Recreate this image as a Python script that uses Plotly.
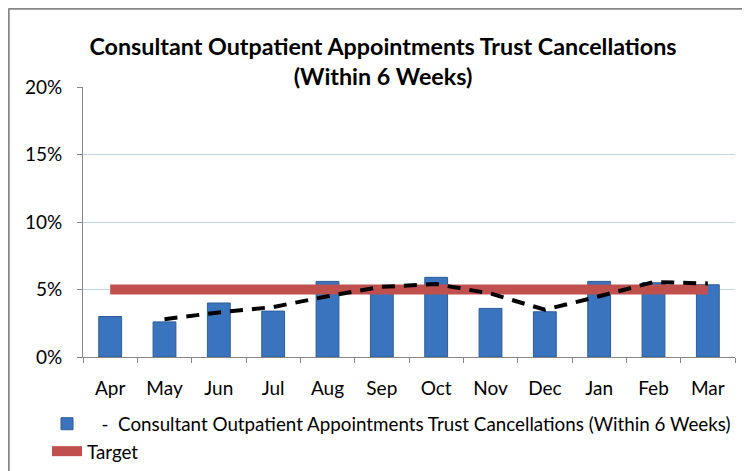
import plotly.graph_objects as go

months = ["Apr", "May", "Jun", "Jul", "Aug", "Sep", "Oct", "Nov", "Dec", "Jan", "Feb", "Mar"]
cancellations = [3.0, 2.6, 4.0, 3.4, 5.6, 4.9, 5.9, 3.6, 3.35, 5.6, 5.5, 5.35]
trend = [None, 2.8, 3.3, 3.7, 4.5, 5.2, 5.4, 4.7, 3.5, 4.5, 5.55, 5.45]
target = [5, 5, 5, 5, 5, 5, 5, 5, 5, 5, 5, 5]
y_ticks = [0, 5, 10, 15, 20]
y_tick_labels = ["0%", "5%", "10%", "15%", "20%"]

FONT = "Lato"
OFF = 8  # page body margin
W, H = 750 - OFF, 471 - OFF
# plot area in reference (screen) pixels
L, R, T, B = 83, 735, 87, 357

def px_x(p):
    return (p - L) / (R - L)

def px_y(p):
    return (B - p) / (B - T)

fig = go.Figure()
fig.add_trace(go.Bar(
    x=months, y=cancellations, width=0.42,
    marker=dict(color="#3A74BE", line=dict(color="#2C5C98", width=1)),
    name="\u00a0\u00a0\u00a0-\u00a0\u00a0Consultant Outpatient Appointments Trust Cancellations (Within 6 Weeks)",
))
fig.add_trace(go.Scatter(
    x=months, y=target, mode="lines",
    line=dict(color="#C0504D", width=10),
    name="Target",
))
fig.add_trace(go.Scatter(
    x=months, y=trend, mode="lines",
    line=dict(color="black", width=4, dash="13px,9px"),
    showlegend=False,
))

fig.update_layout(
    width=W, height=H,
    margin=dict(l=L - OFF, r=750 - R, t=T - OFF, b=471 - B, autoexpand=False),
    paper_bgcolor="white", plot_bgcolor="white",
    font=dict(family=FONT, size=19, color="black"),
    title=dict(
        text="<b>Consultant Outpatient Appointments Trust Cancellations<br>(Within 6 Weeks)</b>",
        x=(383 - OFF) / W, xanchor="center", xref="container",
        y=1 - (55 - OFF) / H, yanchor="middle", yref="container",
        font=dict(family=FONT, size=23.3, color="black"),
    ),
    showlegend=True,
    legend=dict(
        x=px_x(47), xanchor="left", y=px_y(405), yanchor="top",
        bgcolor="rgba(0,0,0,0)", font=dict(family=FONT, size=18.8),
        itemwidth=30, tracegroupgap=0,
    ),
)
fig.update_xaxes(
    type="category", range=[-0.5, 11.5],
    showline=True, linecolor="#878787", linewidth=1,
    ticks="outside", tickson="boundaries", ticklen=5, tickcolor="#878787",
    showgrid=False, tickfont=dict(family=FONT, size=19), ticklabelstandoff=14,
)
fig.update_yaxes(
    range=[0, 20], tickvals=y_ticks, ticktext=y_tick_labels,
    showline=True, linecolor="#878787", linewidth=1,
    ticks="outside", ticklen=5, tickcolor="#878787",
    showgrid=True, gridcolor="#C5D3E6", gridwidth=1,
    zeroline=False, tickfont=dict(family=FONT, size=19), ticklabelstandoff=11,
)
# chart-area frame: top and left edges only
fig.add_shape(
    type="line", xref="paper", yref="paper",
    x0=px_x(OFF + 0.5), x1=px_x(750), y0=px_y(OFF + 0.5), y1=px_y(OFF + 0.5),
    line=dict(color="#878787", width=2.5), layer="below",
)
fig.add_shape(
    type="line", xref="paper", yref="paper",
    x0=px_x(OFF + 0.5), x1=px_x(OFF + 0.5), y0=px_y(OFF + 0.5), y1=px_y(471),
    line=dict(color="#878787", width=2.5), layer="below",
)

fig.write_html("out.html")
